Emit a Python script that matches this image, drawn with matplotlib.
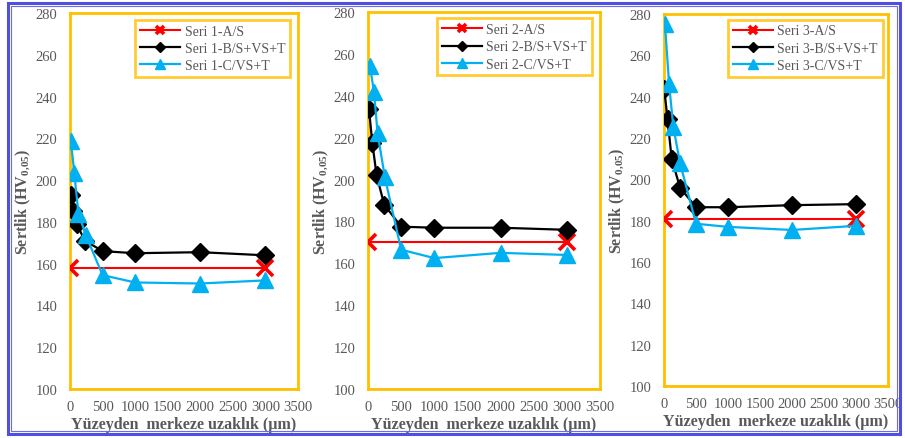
import matplotlib
matplotlib.use("Agg")
import matplotlib.pyplot as plt
from matplotlib.patches import Rectangle

plt.rcParams['font.family'] = ['Liberation Serif', 'DejaVu Serif']
plt.rcParams['mathtext.fontset'] = 'custom'
plt.rcParams['mathtext.rm'] = 'Liberation Serif'
plt.rcParams['mathtext.bf'] = 'Liberation Serif:bold'

# ---- data ----
x_A = [0, 3000]
x_tail = [500, 1000, 2000, 3000]

s1_A = [158, 158]
s1_B_x = [10, 50, 100, 230] + x_tail
s1_B = [193, 185, 179, 171, 166, 165, 165.5, 164]
s1_C_x = [15, 65, 130, 245] + x_tail
s1_C = [218.5, 203.5, 184, 173.5, 154.5, 151, 150.5, 152]

s2_A = [170, 170]
s2_B_x = [15, 65, 130, 245] + x_tail
s2_B = [233.5, 217.5, 202, 188, 177.5, 177, 177, 176]
s2_C_x = [30, 90, 145, 255] + x_tail
s2_C = [254, 242, 222, 201, 166.5, 162.5, 165, 164]

s3_A = [181, 181]
s3_B_x = [5, 55, 120, 250] + x_tail
s3_B = [243.5, 229, 210, 196, 186.5, 186.5, 187.5, 188]
s3_C_x = [15, 80, 145, 250] + x_tail
s3_C = [275, 246, 225.5, 208, 178.5, 177, 175.5, 177.5]

panels = [
    ("Seri 1", s1_A, s1_B_x, s1_B, s1_C_x, s1_C),
    ("Seri 2", s2_A, s2_B_x, s2_B, s2_C_x, s2_C),
    ("Seri 3", s3_A, s3_B_x, s3_B, s3_C_x, s3_C),
]

x_ticks = [0, 500, 1000, 1500, 2000, 2500, 3000, 3500]
y_ticks = [100, 120, 140, 160, 180, 200, 220, 240, 260, 280]

# ---- layout (pixels) ----
W, H = 905, 439
boxes = [(70, 298, 14, 390), (368, 600, 13, 390), (664, 888, 15, 387)]
leg_anchor = [(0.965, 0.981), (0.964, 0.983), (0.976, 0.985)]

GRAY = '#595959'
ORANGE = '#FFC000'
BLUE = '#00B0F0'

fig = plt.figure(figsize=(W / 100, H / 100), dpi=100)
fig.patch.set_facecolor('white')

for (name, A, Bx, B, Cx, C), (l, r, t, b), anc in zip(panels, boxes, leg_anchor):
    wpx, hpx = r - l, b - t
    ax = fig.add_axes([l / W, (H - b) / H, wpx / W, hpx / H])
    ax.plot(x_A, A, color='red', lw=1.5, marker='x', ms=11.5, mew=2.6,
            label=f"{name}-A/S", zorder=3)
    ax.plot(Bx, B, color='black', lw=1.6, marker='D', ms=9.5,
            label=f"{name}-B/S+VS+T", zorder=4)
    ax.plot(Cx, C, color=BLUE, lw=1.6, marker='^', ms=12,
            label=f"{name}-C/VS+T", zorder=5)
    ax.set_xlim(0, 3500)
    ax.set_ylim(100, 280)
    ax.set_xticks(x_ticks)
    ax.set_yticks(y_ticks)
    ax.tick_params(length=0, labelsize=10.5, labelcolor=GRAY)
    ax.tick_params(axis='y', pad=9)
    ax.tick_params(axis='x', pad=8)
    for sp in ax.spines.values():
        sp.set_color(ORANGE)
        sp.set_linewidth(2)
    ax.axvline(0, color='#BFBFBF', lw=1.2, zorder=2)
    ax.axhline(100, color='#BFBFBF', lw=1.2, zorder=2)
    ax.set_ylabel(r"Sertlik (HV$_{\mathbf{0{,}05}}$)", fontsize=11.5,
                  fontweight='bold', color=GRAY, va='center')
    ax.yaxis.set_label_coords(-47 / wpx, 0.5)
    ax.set_xlabel("Yüzeyden  merkeze uzaklık (µm)", fontsize=11.5,
                  fontweight='bold', color=GRAY, va='center')
    ax.xaxis.set_label_coords(0.5, -35 / hpx)
    leg = ax.legend(loc='upper right', bbox_to_anchor=anc, borderaxespad=0,
                    fontsize=10, frameon=True, fancybox=False,
                    markerscale=0.55, handlelength=2.9, handletextpad=0.3,
                    labelspacing=0.3, borderpad=0.35)
    leg.get_frame().set_edgecolor(ORANGE)
    leg.get_frame().set_linewidth(2)
    for txt in leg.get_texts():
        txt.set_color(GRAY)

# outer double border
fig.patches.append(Rectangle((8 / W, 4 / H), 892 / W, 431 / H, transform=fig.transFigure,
                             fill=False, edgecolor='#4F4FE0', lw=2.2))
fig.patches.append(Rectangle((11 / W, 7 / H), 886 / W, 425 / H, transform=fig.transFigure,
                             fill=False, edgecolor='#6B6BE8', lw=0.8))

fig.savefig("out.png", dpi=100, facecolor='white')
